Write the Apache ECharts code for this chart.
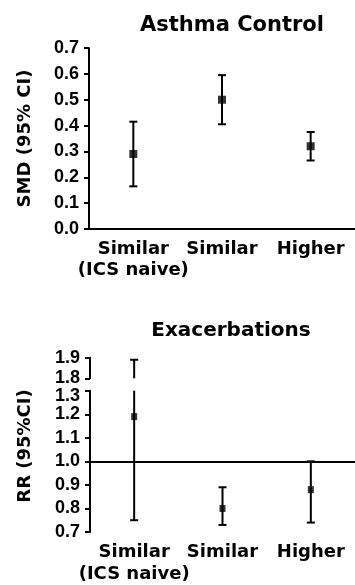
<!DOCTYPE html>
<html>
<head>
<meta charset="utf-8">
<script src="https://cdn.jsdelivr.net/npm/echarts@6/dist/echarts.min.js"></script>
<style>
html,body{margin:0;padding:0;background:#fff;}
#c{width:355px;height:585px;}
</style>
</head>
<body>
<div id="c"></div>
<script>
// ---- data ----
const categories = ['Similar\n(ICS naive)', 'Similar', 'Higher'];
const smdPoint = [0.29, 0.50, 0.32];
const smdLow = [0.165, 0.405, 0.265];
const smdHigh = [0.415, 0.595, 0.375];
const rrPoint = [1.19, 0.80, 0.88];
const rrLow = [0.75, 0.73, 0.74];
const rrHigh = [1.89, 0.89, 1.00];
const smdAxis = [0.0, 0.7];
const rrLowerAxis = [0.7, 1.3];
const rrUpperAxis = [1.8, 1.9];
const rrReference = 1.0;
const titles = ['Asthma Control', 'Exacerbations'];
const yNames = ['SMD (95% CI)', 'RR (95%CI)'];

// ---- build ----
const FONT = '"DejaVu Sans", sans-serif';
const TFONT = '"Liberation Sans", Arial, sans-serif';
function errRender(lw) {
  return function (params, api) {
    const x = api.value(0), lo = api.value(1), hi = api.value(2);
    const capLo = api.value(3), capHi = api.value(4);
    const a = api.coord([x, lo]), b = api.coord([x, hi]);
    const h = 4;
    const st = { stroke: '#000', lineWidth: lw };
    const ch = [{ type: 'line', shape: { x1: a[0], y1: a[1], x2: b[0], y2: b[1] }, style: st }];
    if (capLo) ch.push({ type: 'line', shape: { x1: a[0] - h, y1: a[1], x2: a[0] + h, y2: a[1] }, style: st });
    if (capHi) ch.push({ type: 'line', shape: { x1: b[0] - h, y1: b[1], x2: b[0] + h, y2: b[1] }, style: st });
    return { type: 'group', children: ch };
  };
}
const smdErr = categories.map((c, i) => [i, smdLow[i], smdHigh[i], 1, 1]);
const rrErrLower = [], rrErrUpper = [];
categories.forEach((c, i) => {
  if (rrHigh[i] > rrLowerAxis[1]) {
    rrErrLower.push([i, rrLow[i], rrLowerAxis[1], 1, 0]);
    rrErrUpper.push([i, rrUpperAxis[0], rrHigh[i], 0, 1]);
  } else {
    rrErrLower.push([i, rrLow[i], rrHigh[i], 1, 1]);
  }
});

function yAx(gi, range, shiftMax) {
  return {
    type: 'value', gridIndex: gi, min: range[0], max: range[1], interval: 0.1,
    splitLine: { show: false },
    axisLine: { show: true, lineStyle: { color: '#000', width: 2 } },
    axisTick: { show: true, inside: false, length: 5, lineStyle: { color: '#000', width: 2 } },
    axisLabel: {
      fontSize: 18, margin: 10, color: '#000', fontFamily: TFONT, fontWeight: 'bold',
      formatter: v => (shiftMax && Math.abs(v - range[1]) < 1e-9) ? '{s|' + v.toFixed(1) + '}' : v.toFixed(1),
      rich: { s: { fontSize: 18, fontFamily: TFONT, fontWeight: 'bold', color: '#000', padding: [10, 0, 0, 0] } }
    }
  };
}
function xAx(gi, showLine, showLabel, lh, mg) {
  return {
    type: 'category', gridIndex: gi, data: categories,
    axisLine: { show: showLine, lineStyle: { color: '#000', width: 2 } },
    axisTick: { show: false },
    axisLabel: { show: showLabel, fontSize: 18, margin: mg, lineHeight: lh, interval: 0, color: '#000', fontFamily: FONT, fontWeight: 'bold' }
  };
}

const option = {
  backgroundColor: '#fff',
  animation: false,
  title: [
    { text: titles[0], left: 227, top: 10, textAlign: 'center', textStyle: { fontSize: 21, fontWeight: 'bold', color: '#000', fontFamily: FONT } },
    { text: titles[1], left: 226, top: 316, textAlign: 'center', textStyle: { fontSize: 20, fontWeight: 'bold', color: '#000', fontFamily: FONT } }
  ],
  grid: [
    { left: 89, top: 48, width: 272, height: 181 },
    { left: 90, top: 357.7, width: 272, height: 20.6 },
    { left: 90, top: 390.7, width: 272, height: 145 }
  ],
  xAxis: [xAx(0, true, true, 21, 10), xAx(1, false, false, 21, 7), xAx(2, false, true, 22, 9)],
  yAxis: [
    Object.assign(yAx(0, smdAxis, false), { name: yNames[0], nameLocation: 'middle', nameGap: 55, nameTextStyle: { fontSize: 18, color: '#000', fontFamily: FONT, fontWeight: 'bold' } }),
    yAx(1, rrUpperAxis, false),
    yAx(2, rrLowerAxis, true)
  ],
  graphic: [
    { type: 'text', x: 25, y: 446, rotation: Math.PI / 2, style: { text: yNames[1], fill: '#000', font: 'bold 18px ' + FONT, textAlign: 'center', textVerticalAlign: 'middle' } }
  ],
  series: [
    { type: 'custom', xAxisIndex: 0, yAxisIndex: 0, renderItem: errRender(2), data: smdErr, clip: false },
    { type: 'scatter', xAxisIndex: 0, yAxisIndex: 0, symbol: 'rect', symbolSize: 8, itemStyle: { color: '#000' }, data: smdPoint, z: 5 },
    { type: 'custom', xAxisIndex: 1, yAxisIndex: 1, renderItem: errRender(2), data: rrErrUpper, clip: false },
    { type: 'custom', xAxisIndex: 2, yAxisIndex: 2, renderItem: errRender(2), data: rrErrLower, clip: false },
    { type: 'scatter', xAxisIndex: 2, yAxisIndex: 2, symbol: 'rect', symbolSize: [6, 7], itemStyle: { color: '#000' }, data: rrPoint, z: 5,
      markLine: { silent: true, symbol: 'none', label: { show: false }, lineStyle: { color: '#000', width: 2, type: 'solid' }, data: [{ yAxis: rrReference }] } }
  ]
};
const chart = echarts.init(document.getElementById('c'), null, { renderer: 'canvas' });
chart.setOption(option);
</script>
</body>
</html>
